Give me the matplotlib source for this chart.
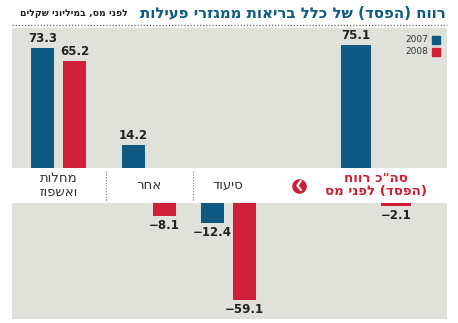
import numpy as np
import matplotlib
matplotlib.use('Agg')
from matplotlib import pyplot as plt
from matplotlib.lines import Line2D
from matplotlib.patches import Rectangle

# ערכים במיליוני שקלים
categories = ['מחלות\nואשפוז', 'אחר', 'סיעוד', 'סה"כ רווח\n(הפסד) לפני מס']
years = ['2007', '2008']
vals_2007 = [73.3, 14.2, -12.4, 75.1]
vals_2008 = [65.2, -8.1, -59.1, -2.1]
title = 'רווח (הפסד) של כלל בריאות ממגזרי פעילות'
subtitle = 'לפני מס, במיליוני שקלים'

BLUE = '#0f5a82'
RED = '#cf1f37'
GRAY = '#e1e1dc'
DARK = '#222222'

W, H = 458, 323


def rtl(s):
    # matplotlib has no bidi support, so flip each line by hand
    swap = str.maketrans('()', ')(')
    return '\n'.join(line[::-1].translate(swap) for line in s.split('\n'))


def fx(px):
    return px / W


def fy(py):
    return 1 - py / H


# bar layout (pixel columns)
blue_x = [42.5, 133.5, 212.5, 356]
red_x = [74.5, 164.5, 244, 396]
widths = [23, 23, 23, 30]
px_per_unit = 1.64
left, right = 12, 447

fig = plt.figure(figsize=(W / 100, H / 100), dpi=100)
fig.patch.set_facecolor('white')

top_y0, top_y1 = 28, 168
bot_y0, bot_y1 = 203, 319
ax_top = fig.add_axes([fx(left), fy(top_y1), fx(right - left), (top_y1 - top_y0) / H])
ax_bot = fig.add_axes([fx(left), fy(bot_y1), fx(right - left), (bot_y1 - bot_y0) / H])
ax_mid = fig.add_axes([fx(left), fy(bot_y0), fx(right - left), (bot_y0 - top_y1) / H])

ax_top.set_ylim(0, (top_y1 - top_y0) / px_per_unit)
ax_bot.set_ylim(-(bot_y1 - bot_y0) / px_per_unit, 0)
for ax in (ax_top, ax_bot, ax_mid):
    ax.set_xlim(left, right)
    ax.set_facecolor(GRAY)
    ax.set_xticks([])
    ax.set_yticks([])
    for s in ax.spines.values():
        s.set_visible(False)
ax_mid.set_facecolor('white')
ax_mid.set_ylim(0, 1)


def draw(xs, vals, color):
    for x, v, w in zip(xs, vals, widths):
        ax = ax_top if v >= 0 else ax_bot
        ax.bar(x, v, width=w, color=color)
        lab = ('%.1f' % v).replace('-', '\u2212')
        ax.annotate(lab, (x, v), xytext=(0, 2 if v >= 0 else -2),
                    textcoords='offset points', ha='center',
                    va='bottom' if v >= 0 else 'top',
                    fontsize=8.5, fontweight='bold', color=DARK)


draw(blue_x, vals_2007, BLUE)
draw(red_x, vals_2008, RED)

# category strip
for i, c in enumerate(categories):
    cx = (blue_x[i] + red_x[i]) / 2
    last = i == len(categories) - 1
    ax_mid.text(cx, 0.5, rtl(c), ha='center', va='center',
                fontsize=9.5, linespacing=1.0,
                color=RED if last else '#333333',
                fontweight='bold' if last else 'normal')
for sx in (106, 193):
    ax_mid.plot([sx, sx], [0.1, 0.92], color='#777777', lw=0.8, ls=(0, (1, 1.5)))
ax_mid.plot(299, 0.5, 'o', ms=9.5, color=RED)
ax_mid.plot([300.8, 297.4, 300.8], [0.63, 0.5, 0.37], color='white', lw=1.6,
            solid_capstyle='round', solid_joinstyle='round')

# legend
for j, (yr, col) in enumerate(zip(years, [BLUE, RED])):
    yc = 40 + 12 * j
    fig.add_artist(Rectangle((fx(432), fy(yc + 4)), fx(8), 8 / H, color=col,
                             transform=fig.transFigure))
    fig.text(fx(428), fy(yc), yr, ha='right', va='center', fontsize=6.5, color='#333333')

# title
fig.text(fx(446), fy(13), rtl(title), ha='right', va='center', fontsize=10.8,
         fontweight='bold', color=BLUE)
fig.text(fx(20), fy(14), rtl(subtitle), ha='left', va='center', fontsize=6.7,
         fontweight='bold', color=DARK)
fig.add_artist(Line2D([fx(left), fx(right)], [fy(25), fy(25)], color='#666666',
                      lw=0.9, ls=(0, (1, 1.5)), transform=fig.transFigure))

fig.savefig('out.png', dpi=100, facecolor='white')
